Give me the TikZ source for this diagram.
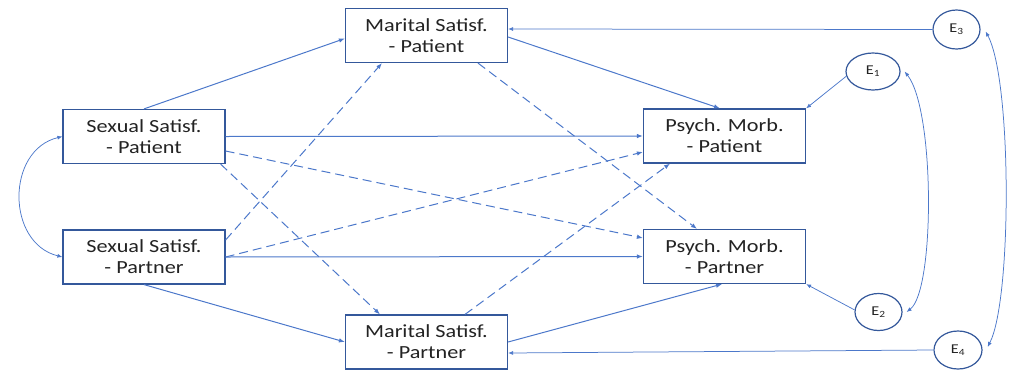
\documentclass[tikz,border=0pt]{standalone}
\usepackage{fontspec}
\setmainfont{Carlito}[FakeStretch=1.2]
\usetikzlibrary{arrows.meta,shapes.geometric}
\definecolor{lineblue}{RGB}{76,120,202}
\definecolor{boxblue}{RGB}{52,88,155}
\definecolor{txt}{RGB}{35,35,35}
\begin{document}
\begin{tikzpicture}[x=1pt,y=-1pt,
  box/.style={draw=boxblue,line width=1.2pt,fill=white,minimum width=162pt,minimum height=54pt,
    inner sep=0pt,align=center,text=txt,font=\fontsize{18.5}{21}\selectfont},
  err/.style={ellipse,draw=boxblue,line width=1.2pt,inner sep=0pt,text=txt,font=\fontsize{13.5}{15}\selectfont},
  arr/.style={lineblue,line width=1pt,-{Latex[length=6pt,width=4.5pt]}},
  dsh/.style={arr,dash pattern=on 9pt off 5pt},
  thinarr/.style={lineblue,line width=0.75pt,-{Latex[length=5pt,width=4pt]}},
  dbl/.style={lineblue,line width=0.75pt,{Latex[length=5pt,width=4pt]}-{Latex[length=5pt,width=4pt]}}]
\useasboundingbox (0,0) rectangle (1011,370);

\node[box] (ssp) at (144,136.5) {Sexual Satisf.\\- Patient};
\node[box] (ssr) at (144,257) {Sexual Satisf.\\- Partner};
\node[box] (msp) at (426.5,35.5) {Marital Satisf.\\- Patient};
\node[box] (msr) at (426.5,342) {Marital Satisf.\\- Partner};
\node[box] (pmp) at (724.5,136) {Psych. Morb.\\- Patient};
\node[box] (pmr) at (724.5,256.5) {Psych. Morb.\\- Partner};

\node[err,minimum width=54pt,minimum height=37pt] (e1) at (873,71.5) {E\textsubscript{1}};
\node[err,minimum width=47pt,minimum height=37pt] (e2) at (878.5,312) {E\textsubscript{2}};
\node[err,minimum width=47pt,minimum height=39pt] (e3) at (956.5,29.5) {E\textsubscript{3}};
\node[err,minimum width=48pt,minimum height=38pt] (e4) at (958,350) {E\textsubscript{4}};

% solid paths
\draw[arr] (ssp.north) -- ([yshift=-3pt]msp.west);
\draw[arr] (ssp.east) -- (pmp.west);
\draw[arr] (ssr.east) -- (pmr.west);
\draw[arr] (ssr.south) -- (msr.west);
\draw[arr] ([yshift=-1.5pt]msp.east) -- ([xshift=-4.5pt]pmp.north);
\draw[arr] (msr.east) -- ([xshift=-2.5pt]pmr.south);

% dashed paths
\draw[dsh] ([yshift=-14.5pt]ssp.east) -- ([yshift=18.5pt]pmr.west);
\draw[dsh] ([xshift=-5pt]ssp.south east) -- ([xshift=-46.5pt]msr.north);
\draw[dsh] ([yshift=17pt]ssr.east) -- ([xshift=-44.5pt]msp.south);
\draw[dsh] (ssr.east) -- ([yshift=-16pt]pmp.west);
\draw[dsh] ([xshift=51.5pt]msp.south) -- ([xshift=-27.5pt]pmr.north);
\draw[dsh] ([xshift=38.5pt]msr.north) -- ([xshift=-54.5pt]pmp.south);

% error terms
\draw[thinarr] (e3.west) -- ([yshift=6.5pt]msp.east);
\draw[thinarr] (e4.west) -- ([yshift=-11pt]msr.east);
\draw[thinarr] (e1.190) -- (pmp.north east);
\draw[thinarr] (e2.175) -- (pmr.south east);

% correlations
\draw[dbl] (ssp.west) .. controls (6,150) and (6,243) .. (ssr.west);
\draw[dbl] ([xshift=4pt]e1.east) .. controls (935,110) and (935,290) .. ([xshift=4pt]e2.east);
\draw[dbl] ([xshift=5pt,yshift=-2pt]e3.east) .. controls (1012,80) and (1012,300) .. ([xshift=5pt,yshift=3pt]e4.east);
\end{tikzpicture}
\end{document}
